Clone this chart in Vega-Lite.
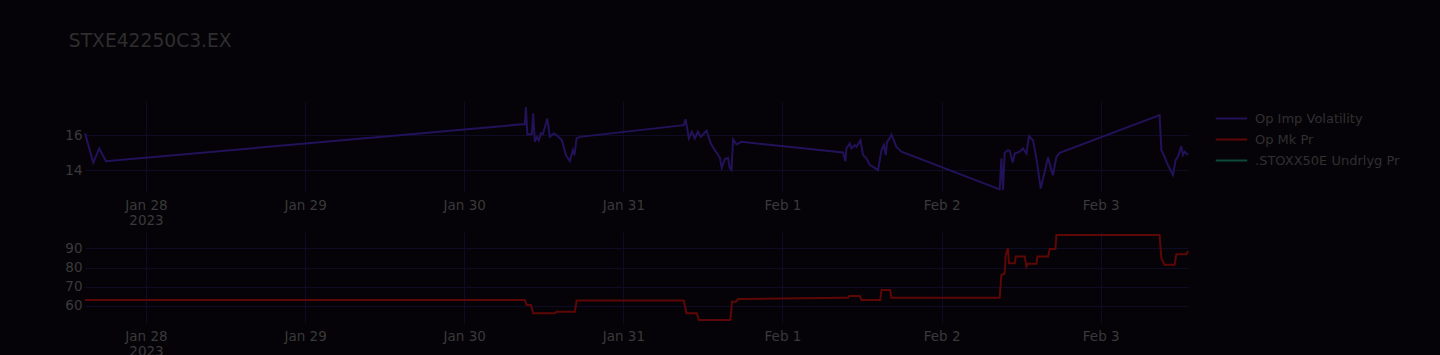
{
  "$schema": "https://vega.github.io/schema/vega-lite/v6.json",
  "background": "#050307",
  "padding": {"left": 64, "top": 32, "right": 40, "bottom": 0},
  "title": {"text": "STXE42250C3.EX", "anchor": "start", "frame": "bounds", "offset": 50, "dx": 4, "fontSize": 18.7, "font": "DejaVu Sans", "fontWeight": "normal", "color": "#2e2e2e"},
  "datasets": {
    "iv": [
      {"t": "2023-01-27T14:48", "v": 16.10, "s": "Op Imp Volatility"},
      {"t": "2023-01-27T16:03", "v": 14.42, "s": "Op Imp Volatility"},
      {"t": "2023-01-27T16:57", "v": 15.24, "s": "Op Imp Volatility"},
      {"t": "2023-01-27T17:58", "v": 14.51, "s": "Op Imp Volatility"},
      {"t": "2023-01-30T09:09", "v": 16.63, "s": "Op Imp Volatility"},
      {"t": "2023-01-30T09:18", "v": 17.60, "s": "Op Imp Volatility"},
      {"t": "2023-01-30T09:31", "v": 16.04, "s": "Op Imp Volatility"},
      {"t": "2023-01-30T10:12", "v": 16.06, "s": "Op Imp Volatility"},
      {"t": "2023-01-30T10:24", "v": 17.24, "s": "Op Imp Volatility"},
      {"t": "2023-01-30T10:39", "v": 15.62, "s": "Op Imp Volatility"},
      {"t": "2023-01-30T10:57", "v": 15.90, "s": "Op Imp Volatility"},
      {"t": "2023-01-30T11:15", "v": 15.71, "s": "Op Imp Volatility"},
      {"t": "2023-01-30T11:34", "v": 16.11, "s": "Op Imp Volatility"},
      {"t": "2023-01-30T11:52", "v": 16.06, "s": "Op Imp Volatility"},
      {"t": "2023-01-30T12:32", "v": 16.95, "s": "Op Imp Volatility"},
      {"t": "2023-01-30T12:55", "v": 15.90, "s": "Op Imp Volatility"},
      {"t": "2023-01-30T13:31", "v": 16.10, "s": "Op Imp Volatility"},
      {"t": "2023-01-30T14:07", "v": 15.94, "s": "Op Imp Volatility"},
      {"t": "2023-01-30T14:44", "v": 15.71, "s": "Op Imp Volatility"},
      {"t": "2023-01-30T15:20", "v": 14.86, "s": "Op Imp Volatility"},
      {"t": "2023-01-30T15:56", "v": 14.51, "s": "Op Imp Volatility"},
      {"t": "2023-01-30T16:23", "v": 15.14, "s": "Op Imp Volatility"},
      {"t": "2023-01-30T16:37", "v": 14.86, "s": "Op Imp Volatility"},
      {"t": "2023-01-30T16:57", "v": 15.81, "s": "Op Imp Volatility"},
      {"t": "2023-01-30T17:26", "v": 15.90, "s": "Op Imp Volatility"},
      {"t": "2023-01-31T09:07", "v": 16.57, "s": "Op Imp Volatility"},
      {"t": "2023-01-31T09:23", "v": 16.91, "s": "Op Imp Volatility"},
      {"t": "2023-01-31T09:53", "v": 15.81, "s": "Op Imp Volatility"},
      {"t": "2023-01-31T10:20", "v": 16.20, "s": "Op Imp Volatility"},
      {"t": "2023-01-31T10:47", "v": 15.81, "s": "Op Imp Volatility"},
      {"t": "2023-01-31T11:14", "v": 16.19, "s": "Op Imp Volatility"},
      {"t": "2023-01-31T11:41", "v": 15.90, "s": "Op Imp Volatility"},
      {"t": "2023-01-31T12:33", "v": 16.25, "s": "Op Imp Volatility"},
      {"t": "2023-01-31T13:12", "v": 15.52, "s": "Op Imp Volatility"},
      {"t": "2023-01-31T13:48", "v": 15.14, "s": "Op Imp Volatility"},
      {"t": "2023-01-31T14:33", "v": 14.72, "s": "Op Imp Volatility"},
      {"t": "2023-01-31T14:51", "v": 14.13, "s": "Op Imp Volatility"},
      {"t": "2023-01-31T15:18", "v": 14.63, "s": "Op Imp Volatility"},
      {"t": "2023-01-31T15:48", "v": 14.70, "s": "Op Imp Volatility"},
      {"t": "2023-01-31T16:03", "v": 14.10, "s": "Op Imp Volatility"},
      {"t": "2023-01-31T16:19", "v": 14.00, "s": "Op Imp Volatility"},
      {"t": "2023-01-31T16:33", "v": 15.75, "s": "Op Imp Volatility"},
      {"t": "2023-01-31T17:04", "v": 15.47, "s": "Op Imp Volatility"},
      {"t": "2023-01-31T17:49", "v": 15.62, "s": "Op Imp Volatility"},
      {"t": "2023-02-01T09:08", "v": 15.01, "s": "Op Imp Volatility"},
      {"t": "2023-02-01T09:30", "v": 14.51, "s": "Op Imp Volatility"},
      {"t": "2023-02-01T09:39", "v": 15.24, "s": "Op Imp Volatility"},
      {"t": "2023-02-01T10:09", "v": 15.52, "s": "Op Imp Volatility"},
      {"t": "2023-02-01T10:24", "v": 15.24, "s": "Op Imp Volatility"},
      {"t": "2023-02-01T10:54", "v": 15.43, "s": "Op Imp Volatility"},
      {"t": "2023-02-01T11:10", "v": 15.33, "s": "Op Imp Volatility"},
      {"t": "2023-02-01T11:46", "v": 15.71, "s": "Op Imp Volatility"},
      {"t": "2023-02-01T12:09", "v": 14.86, "s": "Op Imp Volatility"},
      {"t": "2023-02-01T12:40", "v": 14.67, "s": "Op Imp Volatility"},
      {"t": "2023-02-01T13:10", "v": 14.29, "s": "Op Imp Volatility"},
      {"t": "2023-02-01T13:40", "v": 14.19, "s": "Op Imp Volatility"},
      {"t": "2023-02-01T14:25", "v": 14.00, "s": "Op Imp Volatility"},
      {"t": "2023-02-01T14:56", "v": 15.14, "s": "Op Imp Volatility"},
      {"t": "2023-02-01T15:17", "v": 15.43, "s": "Op Imp Volatility"},
      {"t": "2023-02-01T15:35", "v": 14.86, "s": "Op Imp Volatility"},
      {"t": "2023-02-01T15:46", "v": 15.62, "s": "Op Imp Volatility"},
      {"t": "2023-02-01T16:05", "v": 15.75, "s": "Op Imp Volatility"},
      {"t": "2023-02-01T16:26", "v": 16.04, "s": "Op Imp Volatility"},
      {"t": "2023-02-01T16:47", "v": 15.71, "s": "Op Imp Volatility"},
      {"t": "2023-02-01T17:11", "v": 15.33, "s": "Op Imp Volatility"},
      {"t": "2023-02-01T17:56", "v": 15.05, "s": "Op Imp Volatility"},
      {"t": "2023-02-02T08:46", "v": 12.90, "s": "Op Imp Volatility"},
      {"t": "2023-02-02T09:01", "v": 14.67, "s": "Op Imp Volatility"},
      {"t": "2023-02-02T09:16", "v": 12.86, "s": "Op Imp Volatility"},
      {"t": "2023-02-02T09:31", "v": 14.99, "s": "Op Imp Volatility"},
      {"t": "2023-02-02T10:01", "v": 15.14, "s": "Op Imp Volatility"},
      {"t": "2023-02-02T10:17", "v": 15.10, "s": "Op Imp Volatility"},
      {"t": "2023-02-02T10:44", "v": 14.43, "s": "Op Imp Volatility"},
      {"t": "2023-02-02T11:02", "v": 14.95, "s": "Op Imp Volatility"},
      {"t": "2023-02-02T11:47", "v": 15.05, "s": "Op Imp Volatility"},
      {"t": "2023-02-02T12:17", "v": 15.24, "s": "Op Imp Volatility"},
      {"t": "2023-02-02T12:48", "v": 14.95, "s": "Op Imp Volatility"},
      {"t": "2023-02-02T13:11", "v": 15.94, "s": "Op Imp Volatility"},
      {"t": "2023-02-02T13:47", "v": 15.71, "s": "Op Imp Volatility"},
      {"t": "2023-02-02T14:18", "v": 14.67, "s": "Op Imp Volatility"},
      {"t": "2023-02-02T14:57", "v": 12.95, "s": "Op Imp Volatility"},
      {"t": "2023-02-02T15:33", "v": 13.90, "s": "Op Imp Volatility"},
      {"t": "2023-02-02T16:03", "v": 14.73, "s": "Op Imp Volatility"},
      {"t": "2023-02-02T16:34", "v": 14.00, "s": "Op Imp Volatility"},
      {"t": "2023-02-02T16:48", "v": 13.71, "s": "Op Imp Volatility"},
      {"t": "2023-02-02T17:19", "v": 14.76, "s": "Op Imp Volatility"},
      {"t": "2023-02-02T17:49", "v": 14.99, "s": "Op Imp Volatility"},
      {"t": "2023-02-03T08:53", "v": 17.14, "s": "Op Imp Volatility"},
      {"t": "2023-02-03T09:09", "v": 15.14, "s": "Op Imp Volatility"},
      {"t": "2023-02-03T09:38", "v": 14.76, "s": "Op Imp Volatility"},
      {"t": "2023-02-03T10:08", "v": 14.29, "s": "Op Imp Volatility"},
      {"t": "2023-02-03T10:54", "v": 13.71, "s": "Op Imp Volatility"},
      {"t": "2023-02-03T11:18", "v": 14.57, "s": "Op Imp Volatility"},
      {"t": "2023-02-03T11:39", "v": 14.76, "s": "Op Imp Volatility"},
      {"t": "2023-02-03T12:10", "v": 15.37, "s": "Op Imp Volatility"},
      {"t": "2023-02-03T12:24", "v": 14.86, "s": "Op Imp Volatility"},
      {"t": "2023-02-03T12:40", "v": 15.05, "s": "Op Imp Volatility"},
      {"t": "2023-02-03T13:10", "v": 14.86, "s": "Op Imp Volatility"}
    ],
    "pr": [
      {"t": "2023-01-27T14:48", "v": 63.1, "s": "Op Mk Pr"},
      {"t": "2023-01-27T17:58", "v": 63.1, "s": "Op Mk Pr"},
      {"t": "2023-01-30T09:09", "v": 63.1, "s": "Op Mk Pr"},
      {"t": "2023-01-30T09:24", "v": 60.5, "s": "Op Mk Pr"},
      {"t": "2023-01-30T10:03", "v": 60.5, "s": "Op Mk Pr"},
      {"t": "2023-01-30T10:24", "v": 56.2, "s": "Op Mk Pr"},
      {"t": "2023-01-30T13:40", "v": 56.2, "s": "Op Mk Pr"},
      {"t": "2023-01-30T13:56", "v": 56.9, "s": "Op Mk Pr"},
      {"t": "2023-01-30T16:41", "v": 56.9, "s": "Op Mk Pr"},
      {"t": "2023-01-30T16:57", "v": 62.8, "s": "Op Mk Pr"},
      {"t": "2023-01-30T17:26", "v": 62.8, "s": "Op Mk Pr"},
      {"t": "2023-01-31T09:07", "v": 62.8, "s": "Op Mk Pr"},
      {"t": "2023-01-31T09:32", "v": 56.2, "s": "Op Mk Pr"},
      {"t": "2023-01-31T11:05", "v": 56.2, "s": "Op Mk Pr"},
      {"t": "2023-01-31T11:23", "v": 52.7, "s": "Op Mk Pr"},
      {"t": "2023-01-31T16:08", "v": 52.7, "s": "Op Mk Pr"},
      {"t": "2023-01-31T16:24", "v": 62.2, "s": "Op Mk Pr"},
      {"t": "2023-01-31T16:58", "v": 62.2, "s": "Op Mk Pr"},
      {"t": "2023-01-31T17:18", "v": 63.6, "s": "Op Mk Pr"},
      {"t": "2023-01-31T17:49", "v": 63.6, "s": "Op Mk Pr"},
      {"t": "2023-02-01T09:08", "v": 64.3, "s": "Op Mk Pr"},
      {"t": "2023-02-01T09:53", "v": 64.3, "s": "Op Mk Pr"},
      {"t": "2023-02-01T10:04", "v": 65.2, "s": "Op Mk Pr"},
      {"t": "2023-02-01T11:40", "v": 65.2, "s": "Op Mk Pr"},
      {"t": "2023-02-01T11:55", "v": 63.1, "s": "Op Mk Pr"},
      {"t": "2023-02-01T14:45", "v": 63.1, "s": "Op Mk Pr"},
      {"t": "2023-02-01T14:56", "v": 68.3, "s": "Op Mk Pr"},
      {"t": "2023-02-01T16:15", "v": 68.3, "s": "Op Mk Pr"},
      {"t": "2023-02-01T16:26", "v": 64.3, "s": "Op Mk Pr"},
      {"t": "2023-02-01T17:56", "v": 64.3, "s": "Op Mk Pr"},
      {"t": "2023-02-02T08:46", "v": 64.3, "s": "Op Mk Pr"},
      {"t": "2023-02-02T09:01", "v": 76.1, "s": "Op Mk Pr"},
      {"t": "2023-02-02T09:31", "v": 77.0, "s": "Op Mk Pr"},
      {"t": "2023-02-02T09:40", "v": 86.6, "s": "Op Mk Pr"},
      {"t": "2023-02-02T10:01", "v": 90.1, "s": "Op Mk Pr"},
      {"t": "2023-02-02T10:10", "v": 82.2, "s": "Op Mk Pr"},
      {"t": "2023-02-02T11:02", "v": 82.2, "s": "Op Mk Pr"},
      {"t": "2023-02-02T11:11", "v": 85.7, "s": "Op Mk Pr"},
      {"t": "2023-02-02T12:32", "v": 85.7, "s": "Op Mk Pr"},
      {"t": "2023-02-02T12:48", "v": 80.5, "s": "Op Mk Pr"},
      {"t": "2023-02-02T13:02", "v": 81.9, "s": "Op Mk Pr"},
      {"t": "2023-02-02T14:18", "v": 81.9, "s": "Op Mk Pr"},
      {"t": "2023-02-02T14:27", "v": 85.7, "s": "Op Mk Pr"},
      {"t": "2023-02-02T16:03", "v": 85.7, "s": "Op Mk Pr"},
      {"t": "2023-02-02T16:19", "v": 89.7, "s": "Op Mk Pr"},
      {"t": "2023-02-02T17:10", "v": 89.7, "s": "Op Mk Pr"},
      {"t": "2023-02-02T17:19", "v": 97.0, "s": "Op Mk Pr"},
      {"t": "2023-02-02T17:49", "v": 97.0, "s": "Op Mk Pr"},
      {"t": "2023-02-03T08:53", "v": 97.0, "s": "Op Mk Pr"},
      {"t": "2023-02-03T09:09", "v": 84.8, "s": "Op Mk Pr"},
      {"t": "2023-02-03T09:38", "v": 81.4, "s": "Op Mk Pr"},
      {"t": "2023-02-03T11:09", "v": 81.4, "s": "Op Mk Pr"},
      {"t": "2023-02-03T11:24", "v": 86.9, "s": "Op Mk Pr"},
      {"t": "2023-02-03T12:55", "v": 86.9, "s": "Op Mk Pr"},
      {"t": "2023-02-03T13:10", "v": 88.6, "s": "Op Mk Pr"}
    ]
  },
  "spacing": 3,
  "resolve": {"scale": {"color": "shared"}, "legend": {"color": "shared"}},
  "vconcat": [
    {
      "width": 1103,
      "height": 91,
      "data": {"name": "iv"},
      "mark": {"type": "line", "strokeWidth": 2},
      "encoding": {
        "x": {
          "field": "t", "type": "temporal", "title": null,
          "scale": {"domain": [{"year": 2023, "month": 1, "date": 27, "hours": 14, "minutes": 48}, {"year": 2023, "month": 2, "date": 3, "hours": 13, "minutes": 10}]},
          "axis": {
            "values": [{"year": 2023, "month": 1, "date": 28}, {"year": 2023, "month": 1, "date": 29}, {"year": 2023, "month": 1, "date": 30}, {"year": 2023, "month": 1, "date": 31}, {"year": 2023, "month": 2, "date": 1}, {"year": 2023, "month": 2, "date": 2}, {"year": 2023, "month": 2, "date": 3}],
            "labelExpr": "month(datum.value) == 0 && date(datum.value) == 28 ? ['Jan 28', '2023'] : timeFormat(datum.value, '%b %-d')"
          }
        },
        "y": {
          "field": "v", "type": "quantitative", "title": null,
          "scale": {"domain": [12.75, 17.95], "nice": false, "zero": false},
          "axis": {"values": [14, 16]}
        },
        "color": {
          "field": "s", "type": "nominal",
          "scale": {"domain": ["Op Imp Volatility", "Op Mk Pr", ".STOXX50E Undrlyg Pr"], "range": ["#22125a", "#5e0707", "#0c4a3a"]},
          "legend": {"title": null}
        }
      }
    },
    {
      "width": 1103,
      "height": 91,
      "data": {"name": "pr"},
      "mark": {"type": "line", "strokeWidth": 2},
      "encoding": {
        "x": {
          "field": "t", "type": "temporal", "title": null,
          "scale": {"domain": [{"year": 2023, "month": 1, "date": 27, "hours": 14, "minutes": 48}, {"year": 2023, "month": 2, "date": 3, "hours": 13, "minutes": 10}]},
          "axis": {
            "values": [{"year": 2023, "month": 1, "date": 28}, {"year": 2023, "month": 1, "date": 29}, {"year": 2023, "month": 1, "date": 30}, {"year": 2023, "month": 1, "date": 31}, {"year": 2023, "month": 2, "date": 1}, {"year": 2023, "month": 2, "date": 2}, {"year": 2023, "month": 2, "date": 3}],
            "labelExpr": "month(datum.value) == 0 && date(datum.value) == 28 ? ['Jan 28', '2023'] : timeFormat(datum.value, '%b %-d')"
          }
        },
        "y": {
          "field": "v", "type": "quantitative", "title": null,
          "scale": {"domain": [51.1, 98.5], "nice": false, "zero": false},
          "axis": {"values": [60, 70, 80, 90]}
        },
        "color": {
          "field": "s", "type": "nominal",
          "scale": {"domain": ["Op Imp Volatility", "Op Mk Pr", ".STOXX50E Undrlyg Pr"], "range": ["#22125a", "#5e0707", "#0c4a3a"]},
          "legend": {"title": null}
        }
      }
    }
  ],
  "config": {
    "view": {"stroke": null},
    "font": "DejaVu Sans",
    "axis": {"domain": false, "ticks": false, "grid": true, "gridColor": "#0e0c24", "gridWidth": 1, "labelColor": "#3a3a3a", "labelFont": "DejaVu Sans", "labelFontSize": 13.5},
    "axisX": {"labelPadding": 6, "labelLineHeight": 15, "minExtent": 35, "maxExtent": 35, "labelFlush": false, "labelOverlap": false},
    "axisY": {"labelPadding": 3, "minExtent": 17, "maxExtent": 17},
    "legend": {"orient": "right", "offset": 22, "padding": 6, "symbolType": "M-1.5,0H1.5", "symbolSize": 441, "symbolStrokeWidth": 2, "labelFont": "DejaVu Sans", "labelFontSize": 13, "labelColor": "#303030", "labelOffset": 12, "rowPadding": 2, "labelLimit": 300}
  }
}
